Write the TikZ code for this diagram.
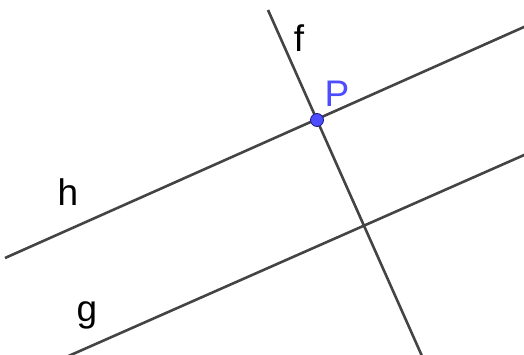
\documentclass[tikz,border=0pt]{standalone}
\usepackage{fontspec}
\setmainfont{Liberation Sans}
\definecolor{linegray}{HTML}{444444}
\definecolor{ptblue}{HTML}{4D4DFF}
\definecolor{ptedge}{HTML}{1A1A80}
\begin{document}
\begin{tikzpicture}[x=1pt,y=-1pt,
  geoline/.style={draw=linegray,line width=2.6pt},
  lbl/.style={anchor=base,inner sep=0pt,font=\fontsize{37}{41}\selectfont},
  pt/.style={circle,fill=ptblue,draw=ptedge,line width=0.8pt,minimum size=13pt,inner sep=0pt}]
\useasboundingbox (0,0) rectangle (524,354);
\clip (0,0) rectangle (524,354);
% line ends
\coordinate (fA) at (268,10);
\coordinate (fB) at (423.3,359);
\coordinate (hA) at (5,258);
\coordinate (hB) at (530,24.3);
\coordinate (gA) at (61.7,359);
\coordinate (gB) at (530,152.4);
\draw[geoline] (fA) -- (fB);
\draw[geoline] (hA) -- (hB);
\draw[geoline] (gA) -- (gB);
\node[pt] (P) at (317,120) {};
\node[lbl,text=ptblue] (Plbl) at (337,106) {P};
\node[lbl] (flbl) at (299,51) {f};
\node[lbl] (hlbl) at (68,205) {h};
\node[lbl] (glbl) at (87,321) {g};
\end{tikzpicture}
\end{document}
